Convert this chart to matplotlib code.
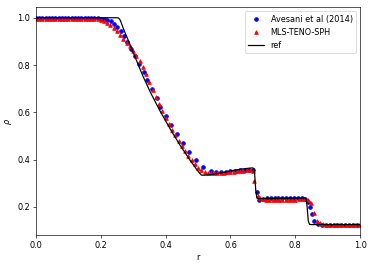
import matplotlib
matplotlib.use("Agg")
import matplotlib.pyplot as plt

# Avesani et al (2014)
r_av = [0.00, 0.01, 0.02, 0.03, 0.04, 0.05, 0.06, 0.07, 0.08, 0.09,
        0.10, 0.11, 0.12, 0.13, 0.14, 0.15, 0.16, 0.17, 0.18, 0.19,
        0.20, 0.21, 0.22, 0.231, 0.241, 0.251, 0.262, 0.272, 0.282, 0.293,
        0.306, 0.318, 0.333, 0.344, 0.357, 0.372, 0.383, 0.401, 0.417, 0.434,
        0.453, 0.472, 0.493, 0.514, 0.539, 0.555, 0.57, 0.585, 0.60, 0.615,
        0.63, 0.645, 0.658, 0.668, 0.683, 0.688, 0.70, 0.712, 0.724, 0.736,
        0.748, 0.76, 0.772, 0.784, 0.796, 0.808, 0.82, 0.83, 0.839, 0.845,
        0.85, 0.859, 0.87, 0.882, 0.894, 0.906, 0.918, 0.93, 0.942, 0.954,
        0.966, 0.978, 0.99]
rho_av = [1.0, 1.0, 1.0, 1.0, 1.0, 1.0, 1.0, 1.0, 1.0, 1.0,
          1.0, 1.0, 1.0, 1.0, 1.0, 1.0, 1.0, 1.0, 1.0, 0.998,
          0.996, 0.993, 0.99, 0.986, 0.972, 0.960, 0.942, 0.922, 0.896, 0.868,
          0.837, 0.804, 0.772, 0.735, 0.698, 0.660, 0.624, 0.584, 0.546, 0.508,
          0.469, 0.434, 0.400, 0.370, 0.353, 0.346, 0.347, 0.349, 0.351, 0.353,
          0.354, 0.356, 0.357, 0.355, 0.265, 0.228, 0.235, 0.236, 0.236, 0.236,
          0.237, 0.237, 0.237, 0.238, 0.238, 0.237, 0.237, 0.235, 0.220, 0.200,
          0.169, 0.142, 0.127, 0.125, 0.125, 0.125, 0.125, 0.125, 0.125, 0.125,
          0.125, 0.125, 0.125]

# MLS-TENO-SPH
r_mls = [0.00, 0.01, 0.02, 0.03, 0.04, 0.05, 0.06, 0.07, 0.08, 0.09,
         0.10, 0.11, 0.12, 0.13, 0.14, 0.15, 0.16, 0.17, 0.18, 0.19,
         0.20, 0.21, 0.22, 0.23, 0.24, 0.25, 0.26, 0.27, 0.28, 0.29,
         0.30, 0.31, 0.32, 0.33, 0.34, 0.35, 0.36, 0.37, 0.38, 0.39,
         0.40, 0.41, 0.42, 0.43, 0.44, 0.45, 0.46, 0.47, 0.48, 0.49,
         0.50, 0.51, 0.52, 0.53, 0.54, 0.55, 0.56, 0.57, 0.58, 0.59,
         0.60, 0.61, 0.62, 0.63, 0.64, 0.65, 0.66, 0.668, 0.674, 0.684,
         0.692, 0.70, 0.71, 0.72, 0.73, 0.74, 0.75, 0.76, 0.77, 0.78,
         0.79, 0.80, 0.81, 0.82, 0.83, 0.838, 0.847, 0.858, 0.867, 0.876,
         0.885, 0.895, 0.905, 0.915, 0.925, 0.935, 0.945, 0.955, 0.965, 0.975,
         0.985, 0.995]
rho_mls = [0.995, 0.995, 0.995, 0.995, 0.995, 0.995, 0.995, 0.995, 0.995, 0.995,
           0.995, 0.995, 0.995, 0.995, 0.995, 0.995, 0.995, 0.994, 0.994, 0.993,
           0.990, 0.985, 0.978, 0.968, 0.956, 0.942, 0.926, 0.908, 0.892, 0.880,
           0.860, 0.840, 0.818, 0.792, 0.760, 0.727, 0.695, 0.664, 0.634, 0.606,
           0.578, 0.552, 0.527, 0.503, 0.480, 0.458, 0.436, 0.416, 0.398, 0.380,
           0.366, 0.356, 0.349, 0.345, 0.343, 0.342, 0.342, 0.343, 0.345, 0.346,
           0.348, 0.349, 0.351, 0.352, 0.353, 0.354, 0.355, 0.352, 0.308, 0.245,
           0.236, 0.232, 0.229, 0.227, 0.227, 0.228, 0.229, 0.229, 0.230, 0.230,
           0.231, 0.231, 0.232, 0.232, 0.232, 0.228, 0.218, 0.176, 0.142, 0.130,
           0.126, 0.125, 0.125, 0.125, 0.125, 0.125, 0.125, 0.125, 0.125, 0.125,
           0.125, 0.125]

# reference solution
r_ref = [0.0, 0.25, 0.255, 0.26, 0.265, 0.27, 0.285, 0.306, 0.331, 0.354,
         0.383, 0.414, 0.444, 0.475, 0.496, 0.505, 0.511, 0.52, 0.54, 0.56,
         0.58, 0.60, 0.62, 0.64, 0.66, 0.668, 0.673, 0.675, 0.678, 0.681,
         0.685, 0.70, 0.75, 0.80, 0.831, 0.834, 0.837, 0.840, 0.844, 0.85, 1.0]
rho_ref = [1.0, 1.0, 0.999, 0.99, 0.972, 0.953, 0.904, 0.833, 0.750, 0.682,
           0.605, 0.530, 0.462, 0.398, 0.358, 0.342, 0.334, 0.334, 0.337, 0.341,
           0.346, 0.352, 0.357, 0.361, 0.364, 0.365, 0.362, 0.33, 0.27, 0.24,
           0.235, 0.235, 0.236, 0.237, 0.237, 0.232, 0.19, 0.14, 0.126, 0.125, 0.125]

fig, ax = plt.subplots(figsize=(6.4, 4.57), dpi=58.44)
fig.subplots_adjust(left=0.096, right=0.963, top=0.972, bottom=0.12)

ax.plot(r_av, rho_av, 'bo', markersize=4.5, label='Avesani et al (2014)')
ax.plot(r_mls, rho_mls, 'r^', markersize=4.5, label='MLS-TENO-SPH')
ax.plot(r_ref, rho_ref, 'k-', linewidth=1.5, label='ref')

ax.set_xlim(0, 1)
ax.set_xlabel('r')
ax.set_ylabel(r'$\rho$')
ax.legend(loc='upper right')

fig.savefig('out.png', dpi=58.44)
